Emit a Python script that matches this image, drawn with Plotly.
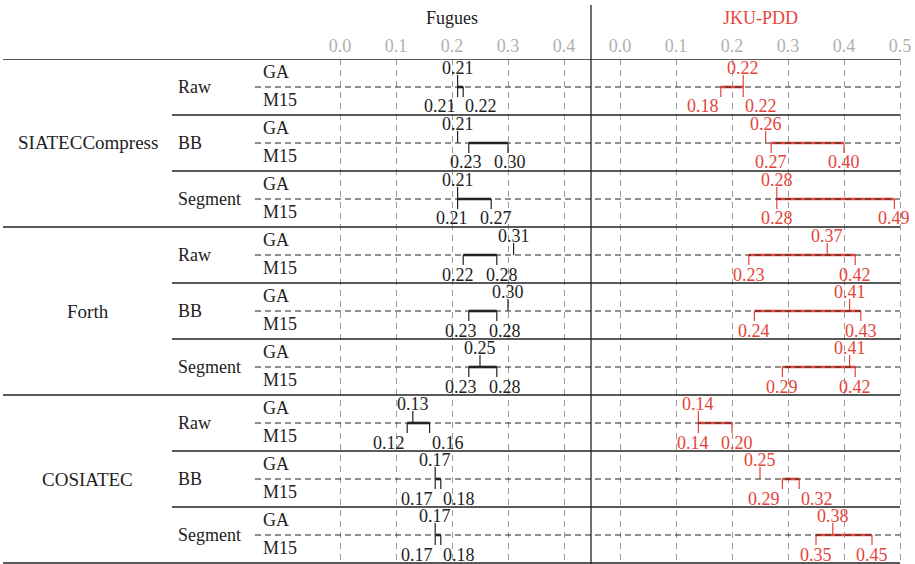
import plotly.graph_objects as go

# ---------------- data ----------------
algorithms = ["SIATECCompress", "Forth", "COSIATEC"]
variants = ["Raw", "BB", "Segment"]
row_labels = ["GA", "M15"]
datasets = ["Fugues", "JKU-PDD"]

fugues_ga = [0.21, 0.21, 0.21, 0.31, 0.30, 0.25, 0.13, 0.17, 0.17]
fugues_m15_lo = [0.21, 0.23, 0.21, 0.22, 0.23, 0.23, 0.12, 0.17, 0.17]
fugues_m15_hi = [0.22, 0.30, 0.27, 0.28, 0.28, 0.28, 0.16, 0.18, 0.18]

jku_ga = [0.22, 0.26, 0.28, 0.37, 0.41, 0.41, 0.14, 0.25, 0.38]
jku_m15_lo = [0.18, 0.27, 0.28, 0.23, 0.24, 0.29, 0.14, 0.29, 0.35]
jku_m15_hi = [0.22, 0.40, 0.49, 0.42, 0.43, 0.42, 0.20, 0.32, 0.45]

fugues_ticks = [0.0, 0.1, 0.2, 0.3, 0.4]
jku_ticks = [0.0, 0.1, 0.2, 0.3, 0.4, 0.5]

# ---------------- layout constants ----------------
OFF = 0                      # page body margin (removed by post_script)
W, H = 915 - OFF, 564 - OFF
FONT = "Liberation Serif"
FS = 18
BLACK = "#222222"
RED = "#e5443a"
GRAY_TXT = "#b0b0b0"
GRID = "#9a9a9a"
TOP_PX = 59          # top rule (page px)
SUB_PX = 56          # height of one sub-group in px
PPU = 560            # px per data unit


def fx(xp):
    """page x pixel -> paper x"""
    return (xp - OFF) / W


def fy(yp):
    """page y pixel -> paper y"""
    return 1 - (yp - OFF) / H


panels = [
    dict(name=datasets[0], axis="x", px0=340, lo_px=330, hi_px=580, ticks=fugues_ticks,
         ga=fugues_ga, lo=fugues_m15_lo, hi=fugues_m15_hi, color=BLACK),
    dict(name=datasets[1], axis="x2", px0=620, lo_px=605, hi_px=914, ticks=jku_ticks,
         ga=jku_ga, lo=jku_m15_lo, hi=jku_m15_hi, color=RED),
]


def px(p, v):
    return p["px0"] + v * PPU


fig = go.Figure()
annotations = []
shapes = []

n_rows = len(algorithms) * len(variants)

for p in panels:
    ax = p["axis"]
    col = p["color"]
    thin_x, thin_y, bar_x, bar_y = [], [], [], []
    for i in range(n_rows):
        mid = i + 0.5
        ga, lo, hi = p["ga"][i], p["lo"][i], p["hi"][i]
        # GA stub (up from the dashed line)
        thin_x += [ga, ga, None]
        thin_y += [i + 16 / SUB_PX, mid, None]
        # M15 end ticks (down from the dashed line)
        thin_x += [lo, lo, None, hi, hi, None]
        thin_y += [mid, i + 38 / SUB_PX, None, mid, i + 38 / SUB_PX, None]
        # M15 bar
        bar_x += [lo, hi, None]
        bar_y += [mid, mid, None]

        # GA value label
        annotations.append(dict(x=ga, y=i + 9 / SUB_PX, xref=ax, yref="y", text=f"{ga:.2f}",
                                showarrow=False, xanchor="center", yanchor="middle",
                                font=dict(family=FONT, size=FS, color=col)))
        # M15 value labels, kept apart when close
        sep = (hi - lo) * PPU
        ylab = i + 47.5 / SUB_PX
        if sep < 24:
            specs = [(lo, "right"), (hi, "left")]
        elif sep < 44:
            m = (lo + hi) / 2
            d = 22 / PPU
            specs = [(m - d, "center"), (m + d, "center")]
        else:
            specs = [(lo, "center"), (hi, "center")]
        for (xv, anc), val in zip(specs, [lo, hi]):
            annotations.append(dict(x=xv, y=ylab, xref=ax, yref="y", text=f"{val:.2f}",
                                    showarrow=False, xanchor=anc, yanchor="middle",
                                    font=dict(family=FONT, size=FS, color=col)))

    fig.add_trace(go.Scatter(x=thin_x, y=thin_y, xaxis=ax, yaxis="y", mode="lines",
                             line=dict(color=col, width=1.2), hoverinfo="skip", showlegend=False))
    fig.add_trace(go.Scatter(x=bar_x, y=bar_y, xaxis=ax, yaxis="y", mode="lines",
                             line=dict(color=col, width=2.6), hoverinfo="skip", showlegend=False))

    # panel header
    c = (px(p, p["ticks"][0]) + px(p, p["ticks"][-1])) / 2
    annotations.append(dict(x=fx(c), y=fy(18), xref="paper", yref="paper", text=p["name"],
                            showarrow=False, xanchor="center", yanchor="middle",
                            font=dict(family=FONT, size=FS, color=col)))

# row structure labels
for a, alg in enumerate(algorithms):
    annotations.append(dict(x=fx(87.5), y=a * 3 + 1.5, xref="paper", yref="y", text=alg,
                            showarrow=False, xanchor="center", yanchor="middle",
                            font=dict(family=FONT, size=FS + 1, color=BLACK)))
    for v, var in enumerate(variants):
        i = a * 3 + v
        annotations.append(dict(x=fx(176), y=i + 0.5, xref="paper", yref="y", text=var,
                                showarrow=False, xanchor="left", yanchor="middle",
                                font=dict(family=FONT, size=FS, color=BLACK)))
        for lab, off in zip(row_labels, [13, 41]):
            annotations.append(dict(x=fx(261), y=i + off / SUB_PX, xref="paper", yref="y", text=lab,
                                    showarrow=False, xanchor="left", yanchor="middle",
                                    font=dict(family=FONT, size=FS, color=BLACK)))

# rules
right_px = px(panels[1], jku_ticks[-1])
for k in range(n_rows + 1):
    x0 = 3 if k % 3 == 0 else 172
    shapes.append(dict(type="line", xref="paper", yref="y", x0=fx(x0), x1=fx(right_px), y0=k, y1=k,
                       line=dict(color=BLACK, width=1.3)))
for i in range(n_rows):
    shapes.append(dict(type="line", xref="paper", yref="y", x0=fx(255), x1=fx(right_px),
                       y0=i + 0.5, y1=i + 0.5, line=dict(color=BLACK, width=1, dash="6px,4px")))
shapes.append(dict(type="line", xref="paper", yref="paper", x0=fx(591), x1=fx(591),
                   y0=0, y1=fy(5), line=dict(color=BLACK, width=1.3)))


def xaxis_cfg(p):
    return dict(domain=[fx(p["lo_px"]), min(fx(p["hi_px"]), 1.0)],
                range=[(p["lo_px"] - p["px0"]) / PPU, (p["hi_px"] - p["px0"]) / PPU],
                side="top", anchor="y", tickvals=p["ticks"], ticktext=[f"{t:.1f}" for t in p["ticks"]],
                showgrid=True, gridcolor=GRID, griddash="6px,5px", gridwidth=1,
                zeroline=False, showline=False, ticks="", ticklabelstandoff=2,
                tickfont=dict(family=FONT, size=FS, color=GRAY_TXT), fixedrange=True)


y_bottom_units = (564 - TOP_PX) / SUB_PX
fig.update_layout(
    width=W, height=H, margin=dict(l=0, r=0, t=0, b=0),
    paper_bgcolor="white", plot_bgcolor="white",
    xaxis=xaxis_cfg(panels[0]), xaxis2=xaxis_cfg(panels[1]),
    yaxis=dict(domain=[0, fy(TOP_PX)], range=[y_bottom_units, 0], showgrid=False,
               showticklabels=False, zeroline=False, fixedrange=True),
    annotations=annotations, shapes=shapes, showlegend=False,
)

fig.write_html("out.html", config={"displayModeBar": False, "staticPlot": True},
               post_script="document.body.style.margin='0';document.body.style.overflow='hidden';")
